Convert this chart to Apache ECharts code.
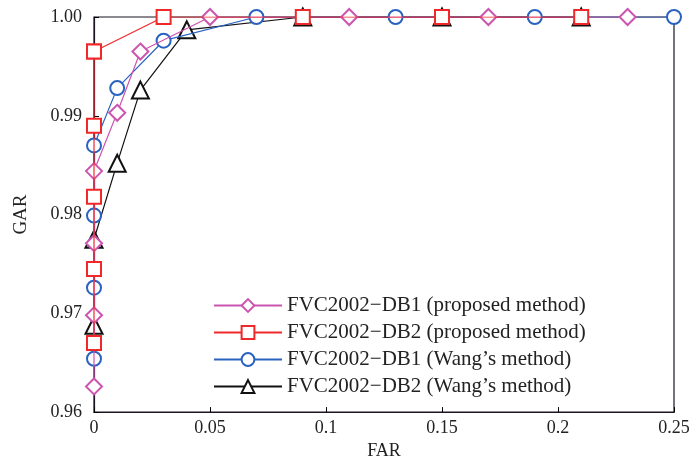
<!DOCTYPE html>
<html>
<head>
<meta charset="utf-8">
<script src="https://cdn.jsdelivr.net/npm/echarts@6/dist/echarts.min.js"></script>
<style>
  html, body {margin: 0; padding: 0; background: #fff;}
  #chart {width: 694px; height: 465px;}
</style>
</head>
<body>
<div id="chart"></div>
<script>
const names = [
  'FVC2002\u2212DB1 (proposed method)',
  'FVC2002\u2212DB2 (proposed method)',
  'FVC2002\u2212DB1 (Wang\u2019s method)',
  'FVC2002\u2212DB2 (Wang\u2019s method)'
];
const xTicks = [0, 0.05, 0.1, 0.15, 0.2, 0.25];
const yTicks = [0.96, 0.97, 0.98, 0.99, 1.00];

const db1PropFar = [0, 0, 0, 0, 0.01, 0.02, 0.05, 0.11, 0.17, 0.23];
const db1PropGar = [0.9626, 0.9698, 0.9771, 0.9844, 0.9903, 0.9965, 1.0, 1.0, 1.0, 1.0];

const db2PropFar = [0, 0, 0, 0, 0, 0, 0.03, 0.09, 0.15, 0.21];
const db2PropGar = [0.9670, 0.9745, 0.9818, 0.9890, 0.9965, 0.9965, 1.0, 1.0, 1.0, 1.0];

const db1WangFar = [0, 0, 0, 0, 0.01, 0.03, 0.07, 0.13, 0.19, 0.25];
const db1WangGar = [0.9654, 0.9726, 0.9799, 0.9870, 0.9928, 0.9976, 1.0, 1.0, 1.0, 1.0];

const db2WangFar = [0, 0, 0.01, 0.02, 0.04, 0.09, 0.15, 0.21];
const db2WangGar = [0.9688, 0.9775, 0.9852, 0.9926, 0.9987, 1.0, 1.0, 1.0];

const pairs = (xs, ys) => xs.map((x, i) => [x, ys[i]]);

const serif = 'Liberation Serif, Times New Roman, serif';
const myChart = echarts.init(document.getElementById('chart'));

const axisCommon = {
  axisLine: {show: true, onZero: false, lineStyle: {color: '#1c1424', width: 1.2}},
  axisTick: {show: true, inside: true, length: 5, lineStyle: {color: '#000'}},
  splitLine: {show: false},
  axisLabel: {color: '#222', fontFamily: serif, fontSize: 18}
};

const mk = (name, data, color, symbol, size, z) => ({
  name,
  type: 'line',
  data,
  symbol,
  symbolSize: size,
  showAllSymbol: true,
  z,
  lineStyle: {color, width: 1.2},
  itemStyle: {color, borderColor: color, borderWidth: 1.2},
  emphasis: {disabled: true},
  animation: false
});

myChart.setOption({
  animation: false,
  grid: {left: 94, right: 20, top: 17, bottom: 52, containLabel: false, show: true, borderColor: '#1c1424', borderWidth: 1.2},
  legend: {
    data: names,
    orient: 'vertical',
    left: 208,
    top: 290,
    itemWidth: 68,
    itemHeight: 16,
    itemGap: 6,
    textStyle: {fontFamily: serif, fontSize: 21, color: '#222'}
  },
  xAxis: Object.assign({}, axisCommon, {
    type: 'value',
    min: 0,
    max: 0.25,
    interval: 0.05,
    name: 'FAR',
    nameLocation: 'middle',
    nameGap: 28,
    nameTextStyle: {fontFamily: serif, fontSize: 18, color: '#222'},
    axisLabel: Object.assign({}, axisCommon.axisLabel, {
      margin: 7,
      formatter: v => {
        const t = xTicks.find(k => Math.abs(k - v) < 1e-9);
        return t === 0 ? '0' : String(t);
      }
    })
  }),
  yAxis: Object.assign({}, axisCommon, {
    type: 'value',
    min: 0.96,
    max: 1.0,
    interval: 0.01,
    name: 'GAR',
    nameLocation: 'middle',
    nameGap: 63,
    nameRotate: 90,
    nameTextStyle: {fontFamily: serif, fontSize: 19, color: '#222'},
    axisLabel: Object.assign({}, axisCommon.axisLabel, {
      margin: 12,
      formatter: v => {
        const t = yTicks.find(k => Math.abs(k - v) < 1e-9);
        return t.toFixed(2);
      }
    })
  }),
  series: [
    mk(names[3], pairs(db2WangFar, db2WangGar), '#111111', 'emptyTriangle', 17, 2),
    mk(names[2], pairs(db1WangFar, db1WangGar), '#2a62c0', 'emptyCircle', 14, 3),
    mk(names[0], pairs(db1PropFar, db1PropGar), '#cc55b0', 'emptyDiamond', 16, 4),
    mk(names[1], pairs(db2PropFar, db2PropGar), '#f0282a', 'emptyRect', 14, 5)
  ]
});
</script>
</body>
</html>
